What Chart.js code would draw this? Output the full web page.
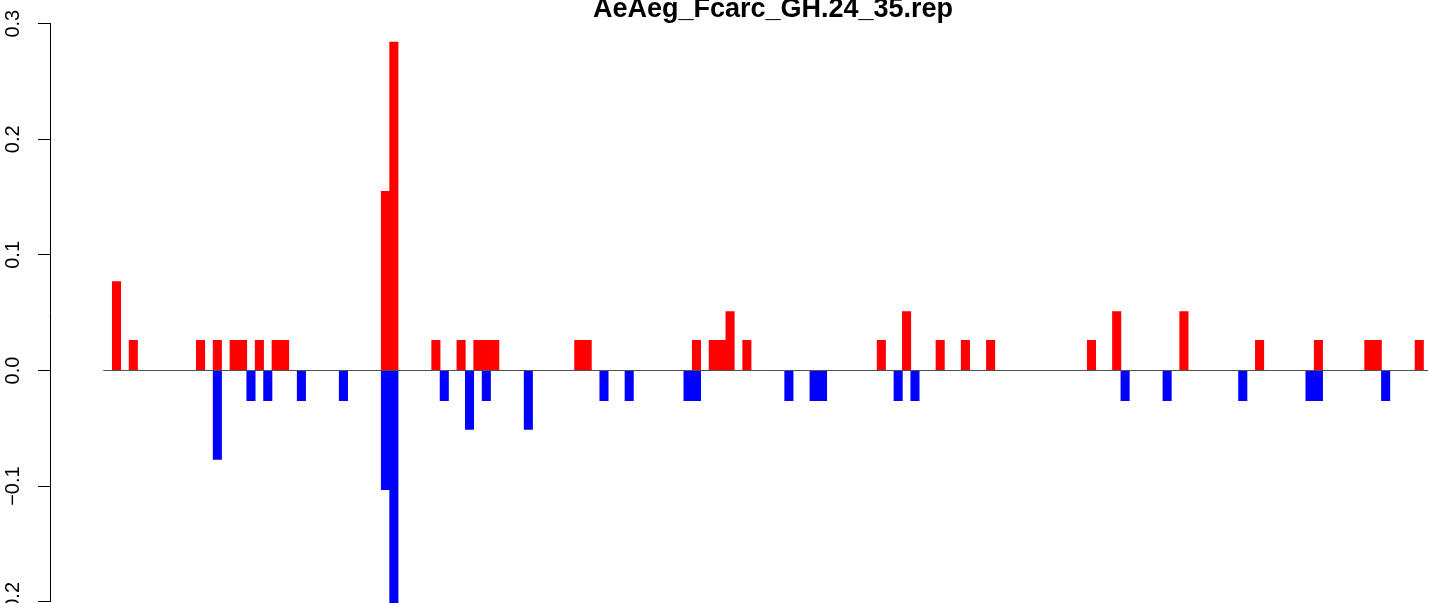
<!DOCTYPE html>
<html>
<head>
<meta charset="utf-8">
<script src="https://cdn.jsdelivr.net/npm/chart.js@4/dist/chart.umd.min.js"></script>
<style>
  html, body { margin: 0; padding: 0; background: #fff; }
  canvas { display: block; }
</style>
</head>
<body>
<canvas id="c" width="1429" height="603"></canvas>
<script>
// ---- data (bar index along the sequence, value) ----
const TITLE = 'AeAeg_Fcarc_GH.24_35.rep';

const posIndex = [0, 2, 10, 12, 14, 15, 17, 19, 20, 32, 33, 38, 41, 43, 44, 45, 55, 56,
                  69, 71, 72, 73, 75, 91, 94, 98, 101, 104, 116, 119, 127, 136, 143, 149, 150, 155];
const posValue = [0.077, 0.026, 0.026, 0.026, 0.026, 0.026, 0.026, 0.026, 0.026, 0.155, 0.284, 0.026,
                  0.026, 0.026, 0.026, 0.026, 0.026, 0.026, 0.026, 0.026, 0.026, 0.051, 0.026, 0.026,
                  0.051, 0.026, 0.026, 0.026, 0.026, 0.051, 0.051, 0.026, 0.026, 0.026, 0.026, 0.026];

const negIndex = [12, 16, 18, 22, 27, 32, 33, 39, 42, 44, 49, 58, 61, 68, 69, 80, 83, 84,
                  93, 95, 120, 125, 134, 142, 143, 151];
const negValue = [-0.077, -0.026, -0.026, -0.026, -0.026, -0.103, -0.23, -0.026, -0.051, -0.026,
                  -0.051, -0.026, -0.026, -0.026, -0.026, -0.026, -0.026, -0.026, -0.026, -0.026,
                  -0.026, -0.026, -0.026, -0.026, -0.026, -0.026];

const yTickValues = [-0.2, -0.1, 0.0, 0.1, 0.2, 0.3];
const zeroLineSpan = [-1.57, 156.04];   // x-range of the horizontal zero line
const xRange = [-7.912, 156.157];        // visible x range (plot region)

// ---- build ----
const toPoints = (idx, val) => idx.map((k, i) => ({ x: k, y: val[i] }));

const titlePlugin = {
  id: 'rTitle',
  afterDraw(chart) {
    const ctx = chart.ctx;
    ctx.save();
    ctx.font = 'bold 27px "Liberation Sans", Arial, Helvetica, sans-serif';
    ctx.fillStyle = '#000';
    ctx.textAlign = 'center';
    ctx.textBaseline = 'alphabetic';
    ctx.fillText(TITLE, 773, 16.5);
    ctx.restore();
  }
};

new Chart(document.getElementById('c'), {
  type: 'bar',
  data: {
    datasets: [
      {
        type: 'line',
        data: zeroLineSpan.map(x => ({ x: x, y: 0 })),
        borderColor: '#505050',
        borderWidth: 1,
        pointRadius: 0,
        fill: false,
        order: 0
      },
      {
        data: toPoints(posIndex, posValue),
        backgroundColor: '#ff0000',
        borderWidth: 0,
        barPercentage: 1,
        categoryPercentage: 1,
        stack: 's',
        order: 1
      },
      {
        data: toPoints(negIndex, negValue),
        backgroundColor: '#0000ff',
        borderWidth: 0,
        barPercentage: 1,
        categoryPercentage: 1,
        stack: 's',
        clip: { left: 0, right: 0, top: 0, bottom: 40 },
        order: 1
      }
    ]
  },
  options: {
    responsive: false,
    devicePixelRatio: 1,
    animation: false,
    layout: { padding: { top: 23.7, bottom: 1.3, left: 0, right: 0 } },
    plugins: {
      legend: { display: false },
      tooltip: { enabled: false },
      title: { display: false }
    },
    scales: {
      x: {
        type: 'linear',
        display: false,
        offset: false,
        stacked: true,
        min: xRange[0],
        max: xRange[1]
      },
      y: {
        type: 'linear',
        stacked: true,
        min: -0.2,
        max: 0.3,
        afterFit: s => {
          s.width = 50;
          s.paddingTop = 0;
          s.paddingBottom = 0;
        },
        afterBuildTicks: s => { s.ticks = yTickValues.map(v => ({ value: v })); },
        ticks: {
          minRotation: 90,
          maxRotation: 90,
          crossAlign: 'center',
          padding: 4.7,
          color: '#000',
          font: { family: '"Liberation Sans", Arial, Helvetica, sans-serif', size: 20 },
          callback: v => (v < 0 ? '\u2212' : '') + Math.abs(v).toFixed(1)
        },
        grid: {
          drawOnChartArea: false,
          drawTicks: true,
          tickLength: 12,
          tickColor: '#000',
          tickWidth: 1
        },
        border: { display: true, color: '#000', width: 1 }
      }
    }
  },
  plugins: [titlePlugin]
});
</script>
</body>
</html>
